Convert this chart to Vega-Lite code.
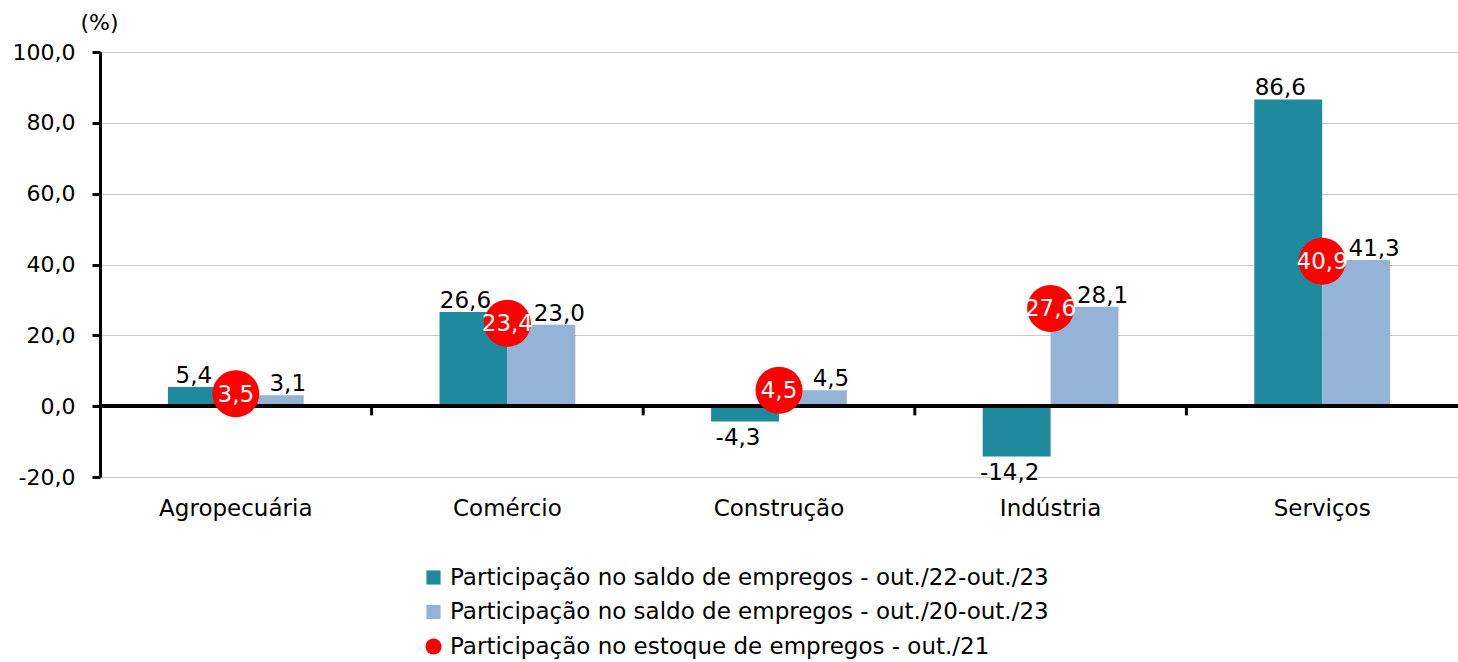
{
  "$schema": "https://vega.github.io/schema/vega-lite/v6.json",
  "width": 1358,
  "height": 425,
  "autosize": "none",
  "padding": {"left": 100, "top": 52, "right": 0, "bottom": 185},
  "background": "white",
  "config": {
    "font": "DejaVu Sans",
    "view": {"stroke": null},
    "locale": {"number": {"decimal": ",", "thousands": ".", "grouping": [3], "currency": ["R$", ""], "minus": "-"}}
  },
  "data": {
    "values": [
      {"cat": "Agropecuária", "series": "Participação no saldo de empregos - out./22-out./23", "value": 5.4},
      {"cat": "Agropecuária", "series": "Participação no saldo de empregos - out./20-out./23", "value": 3.1},
      {"cat": "Agropecuária", "series": "Participação no estoque de empregos - out./21", "value": 3.5},
      {"cat": "Comércio", "series": "Participação no saldo de empregos - out./22-out./23", "value": 26.6},
      {"cat": "Comércio", "series": "Participação no saldo de empregos - out./20-out./23", "value": 23.0},
      {"cat": "Comércio", "series": "Participação no estoque de empregos - out./21", "value": 23.4},
      {"cat": "Construção", "series": "Participação no saldo de empregos - out./22-out./23", "value": -4.3},
      {"cat": "Construção", "series": "Participação no saldo de empregos - out./20-out./23", "value": 4.5},
      {"cat": "Construção", "series": "Participação no estoque de empregos - out./21", "value": 4.5},
      {"cat": "Indústria", "series": "Participação no saldo de empregos - out./22-out./23", "value": -14.2},
      {"cat": "Indústria", "series": "Participação no saldo de empregos - out./20-out./23", "value": 28.1},
      {"cat": "Indústria", "series": "Participação no estoque de empregos - out./21", "value": 27.6},
      {"cat": "Serviços", "series": "Participação no saldo de empregos - out./22-out./23", "value": 86.6},
      {"cat": "Serviços", "series": "Participação no saldo de empregos - out./20-out./23", "value": 41.3},
      {"cat": "Serviços", "series": "Participação no estoque de empregos - out./21", "value": 40.9}
    ]
  },
  "encoding": {
    "x": {
      "field": "cat", "type": "nominal", "sort": null,
      "scale": {"paddingInner": 0, "paddingOuter": 0},
      "axis": {"title": null, "domain": false, "ticks": false, "labelAngle": 0, "labelFontSize": 23, "labelColor": "black", "labelPadding": 20, "grid": false}
    },
    "y": {
      "field": "value", "type": "quantitative",
      "scale": {"domain": [-20, 100], "nice": false, "zero": false},
      "axis": {
        "values": [-20, 0, 20, 40, 60, 80, 100], "format": ".1f",
        "title": "(%)", "titleAngle": 0, "titleAlign": "center", "titleBaseline": "middle",
        "titleX": -1, "titleY": -30, "titleFontSize": 22, "titleFontWeight": "normal", "titleColor": "black",
        "labelFontSize": 22, "labelColor": "black", "labelPadding": 17,
        "domainColor": "black", "domainWidth": 3,
        "tickColor": "black", "tickWidth": 3, "tickSize": 8,
        "grid": true, "gridColor": "#C8C8C8", "gridWidth": 1.2
      }
    }
  },
  "layer": [
    {
      "transform": [{"filter": "datum.series !== 'Participação no estoque de empregos - out./21'"}],
      "mark": {"type": "bar"},
      "encoding": {
        "xOffset": {"field": "series", "type": "nominal", "sort": ["Participação no saldo de empregos - out./22-out./23", "Participação no saldo de empregos - out./20-out./23"], "scale": {"paddingInner": 0, "paddingOuter": 1.09}},
        "color": {
          "field": "series", "type": "nominal",
          "scale": {
            "domain": ["Participação no saldo de empregos - out./22-out./23", "Participação no saldo de empregos - out./20-out./23", "Participação no estoque de empregos - out./21"],
            "range": ["#1F8A9E", "#95B3D7", "#FF0000"]
          },
          "legend": {
            "title": null, "orient": "none", "legendX": 322, "legendY": 514, "direction": "vertical",
            "labelFontSize": 23, "labelColor": "black", "labelLimit": 900, "symbolSize": 200,
            "rowPadding": 10.5, "labelOffset": 5, "padding": 0, "symbolStrokeWidth": 0,
            "encode": {"symbols": {"update": {"shape": {"signal": "datum.value === 'Participação no estoque de empregos - out./21' ? 'circle' : 'square'"}, "size": {"signal": "datum.value === 'Participação no estoque de empregos - out./21' ? 260 : 200"}, "strokeWidth": {"value": 0}}}}
          }
        }
      }
    },
    {
      "transform": [{"filter": "datum.series === 'Participação no saldo de empregos - out./22-out./23' && datum.value >= 0"}],
      "mark": {"type": "text", "fontSize": 23, "color": "black", "dx": -8, "baseline": "bottom", "dy": 1},
      "encoding": {
        "xOffset": {"field": "series", "type": "nominal", "sort": ["Participação no saldo de empregos - out./22-out./23", "Participação no saldo de empregos - out./20-out./23"], "scale": {"domain": ["Participação no saldo de empregos - out./22-out./23", "Participação no saldo de empregos - out./20-out./23"]}},
        "text": {"field": "value", "type": "quantitative", "format": ".1f"}
      }
    },
    {
      "transform": [{"filter": "datum.series === 'Participação no saldo de empregos - out./22-out./23' && datum.value < 0"}],
      "mark": {"type": "text", "fontSize": 23, "color": "black", "dx": -7, "baseline": "top", "dy": 6},
      "encoding": {
        "xOffset": {"field": "series", "type": "nominal", "sort": ["Participação no saldo de empregos - out./22-out./23", "Participação no saldo de empregos - out./20-out./23"], "scale": {"domain": ["Participação no saldo de empregos - out./22-out./23", "Participação no saldo de empregos - out./20-out./23"]}},
        "text": {"field": "value", "type": "quantitative", "format": ".1f"}
      }
    },
    {
      "transform": [{"filter": "datum.series === 'Participação no saldo de empregos - out./20-out./23'"}],
      "mark": {"type": "text", "fontSize": 23, "color": "black", "dx": 18, "baseline": "bottom", "dy": 1},
      "encoding": {
        "xOffset": {"field": "series", "type": "nominal", "sort": ["Participação no saldo de empregos - out./22-out./23", "Participação no saldo de empregos - out./20-out./23"], "scale": {"domain": ["Participação no saldo de empregos - out./22-out./23", "Participação no saldo de empregos - out./20-out./23"]}},
        "text": {"field": "value", "type": "quantitative", "format": ".1f"}
      }
    },
    {
      "mark": {"type": "rule", "color": "black", "strokeWidth": 3},
      "encoding": {"y": {"datum": 0}, "x": null}
    },
    {
      "transform": [{"filter": "datum.series === 'Participação no estoque de empregos - out./21' && datum.cat !== 'Agropecuária'"}],
      "mark": {"type": "rule", "color": "black", "strokeWidth": 3},
      "encoding": {
        "x": {"field": "cat", "type": "nominal", "sort": null, "bandPosition": 0},
        "y": {"datum": 0},
        "y2": {"datum": -2.6}
      }
    },
    {
      "transform": [{"filter": "datum.series === 'Participação no estoque de empregos - out./21'"}],
      "mark": {"type": "point", "shape": "circle", "filled": true, "opacity": 1, "size": 2209, "strokeWidth": 0},
      "encoding": {
        "color": {"field": "series", "type": "nominal"}
      }
    },
    {
      "transform": [{"filter": "datum.series === 'Participação no estoque de empregos - out./21'"}],
      "mark": {"type": "text", "fontSize": 23, "color": "white", "baseline": "middle", "dy": 1},
      "encoding": {
        "text": {"field": "value", "type": "quantitative", "format": ".1f"}
      }
    }
  ]
}
